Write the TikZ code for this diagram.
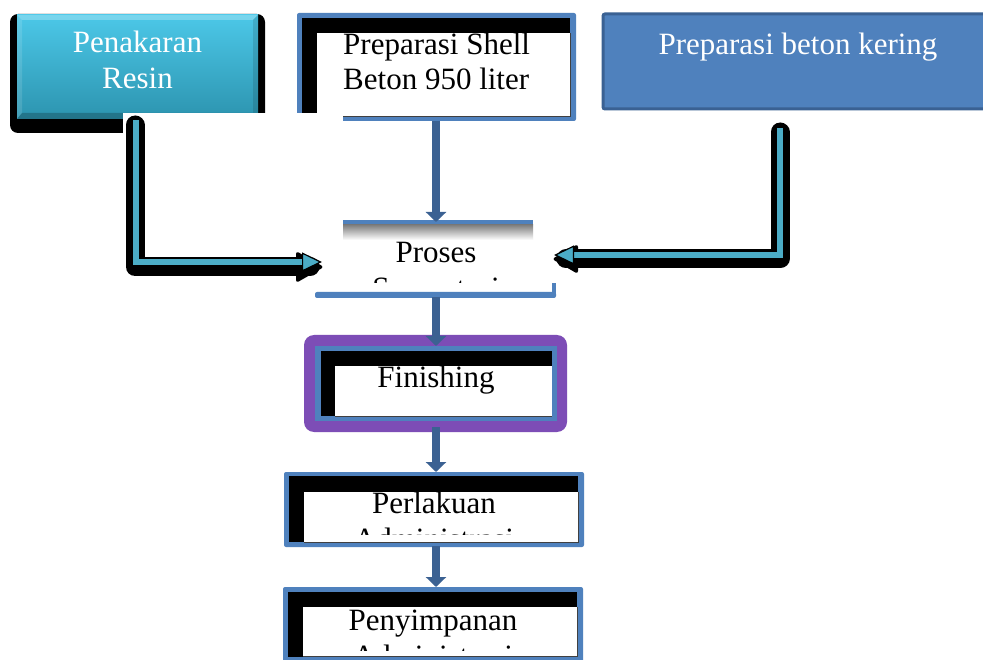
\documentclass[tikz,border=0pt]{standalone}
\usepackage{fontspec}
\setmainfont{Liberation Serif}
\usetikzlibrary{arrows.meta}

\definecolor{officeblue}{HTML}{4F81BD}
\definecolor{borderblue}{HTML}{3A6193}
\definecolor{shaftblue}{HTML}{3B6192}
\definecolor{tealtop}{HTML}{4CC8E8}
\definecolor{tealbot}{HTML}{2C94AF}
\definecolor{tealline}{HTML}{4BACC6}
\definecolor{frameviolet}{HTML}{7D4DB6}

\tikzset{
  lbl/.style={inner sep=0pt, anchor=base, font=\fontsize{31}{36}\selectfont},
  flowarrow/.style={draw=shaftblue, line width=8pt, -{Triangle[width=20pt,length=10pt]}},
  elbowshadow/.style={black, line width=19pt, line cap=round, line join=round},
  elbowline/.style={tealline, line width=6pt, line join=miter,
    -{Triangle[width=19pt,length=20pt,line width=1.2pt,color=black,fill=tealline]}},
}

\begin{document}
\begin{tikzpicture}[x=1pt,y=-1pt]
\clip (0,0) rectangle (983,660);
\fill[white] (0,0) rectangle (983,660);

% --- Penakaran Resin: bevelled teal block on a black shadow
\fill[black, rounded corners=8pt] (10,14) rectangle (265,133);
\shade[top color=tealtop, bottom color=tealbot] (17,15) rectangle (258,119);
\fill[white, opacity=0.25] (17,15) -- (258,15) -- (253,20) -- (22,20) -- cycle;
\fill[white, opacity=0.12] (17,15) -- (17,119) -- (22,113) -- (22,20) -- cycle;
\fill[black, opacity=0.22] (17,119) -- (258,119) -- (253,113) -- (22,113) -- cycle;
\fill[black, opacity=0.12] (258,15) -- (258,119) -- (253,113) -- (253,20) -- cycle;
\node[lbl, text=white] (resin1) at (137.5,53) {Penakaran};
\node[lbl, text=white] (resin2) at (137.5,89) {Resin};

% --- Preparasi Shell
\fill[officeblue, rounded corners=2pt] (297,13) rectangle (576,121);
\fill[black] (302,18) rectangle (570,116);
\fill[white] (317,33) rectangle (570,116);
\draw[black!75, line width=0.8pt] (317,116) -- (570,116) -- (570,33);
\node[lbl, anchor=base west] (shell1) at (343,55) {Preparasi Shell};
\node[lbl, anchor=base west] (shell2) at (343,90) {Beton 950 liter};

% white band cutting off the lower left corners
\fill[white] (123,113) rectangle (343,140);

% --- Preparasi beton kering
\filldraw[fill=officeblue, draw=borderblue, line width=3pt, rounded corners=2pt]
  (603,14) rectangle (1000,109);
\node[lbl, text=white] (beton) at (798,55) {Preparasi beton kering};

% --- Proses Sementasi
\fill[officeblue] (343,220) rectangle (533,225);
\shade[top color=black!50, bottom color=white] (343,225) rectangle (533,240);
\node[lbl] (pros1) at (436,263) {Proses};
\begin{scope}
  \clip (300,270) rectangle (560,283);
  \node[lbl] (pros2) at (436,299) {Sementasi};
\end{scope}
\fill[officeblue, rounded corners=2pt] (315,292) rectangle (556,298);
\fill[officeblue] (552,283) rectangle (556,296);

% --- Finishing
\fill[frameviolet, rounded corners=10pt] (304,335) rectangle (567,432);
\fill[officeblue] (315,346) rectangle (557,421);
\fill[black] (321,351) rectangle (552,416);
\fill[white] (335,366) rectangle (552,416);
\draw[black!75, line width=0.8pt] (335,416) -- (552,416);
\node[lbl] (fin) at (436,388) {Finishing};

% --- Perlakuan Administrasi
\fill[officeblue, rounded corners=2pt] (284,472) rectangle (584,547);
\fill[black] (289,476) rectangle (578,542);
\fill[white] (304,492) rectangle (578,542);
\draw[black!75, line width=0.8pt] (304,542) -- (578,542) -- (578,492);
\node[lbl] (perl1) at (434,513) {Perlakuan};
\begin{scope}
  \clip (304,520) rectangle (578,534);
  \node[lbl] (perl2) at (434,549) {Administrasi};
\end{scope}

% --- Penyimpanan Administrasi
\fill[officeblue, rounded corners=2pt] (283,587) rectangle (583,668);
\fill[black] (288,592) rectangle (577,657);
\fill[white] (303,607) rectangle (577,656);
\draw[black!75, line width=0.8pt] (303,656) -- (577,656) -- (577,607);
\node[lbl] (peny1) at (433,630) {Penyimpanan};
\begin{scope}
  \clip (303,636) rectangle (577,650);
  \node[lbl] (peny2) at (433,666) {Administrasi};
\end{scope}

% --- connector ends
\coordinate (shellOut) at (436,121);
\coordinate (prosIn)   at (436,222);
\coordinate (prosOut)  at (436,297);
\coordinate (finIn)    at (436,346);
\coordinate (finOut)   at (436,427);
\coordinate (perlIn)   at (436,472);
\coordinate (perlOut)  at (436,546);
\coordinate (penyIn)   at (436,587);

\coordinate (resinOut)  at (136,120);
\coordinate (resinBend) at (136,262);
\coordinate (prosWest)  at (322,262);

\coordinate (betonOut)  at (780,128);
\coordinate (betonBend) at (780,255);
\coordinate (prosEast)  at (554,255);

% --- main flow
\draw[flowarrow] (shellOut) -- (prosIn);
\draw[flowarrow] (prosOut) -- (finIn);
\draw[flowarrow] (finOut) -- (perlIn);
\draw[flowarrow] (perlOut) -- (penyIn);

% --- elbow connector from Penakaran Resin
\draw[elbowshadow] ([xshift=-1pt,yshift=-5pt]resinOut) -- ([xshift=-1pt,yshift=-5pt]resinBend)
  -- ([xshift=-12pt,yshift=-5pt]prosWest);
\fill[black, rounded corners=3pt] ([xshift=-26pt,yshift=11pt]prosWest) -- ([xshift=2pt,yshift=-5pt]prosWest)
  -- ([xshift=-26pt,yshift=-21pt]prosWest) -- cycle;
\draw[elbowline] (resinOut) -- (resinBend) -- (prosWest);

% --- elbow connector from Preparasi beton kering
\draw[elbowshadow] ([yshift=-4pt]betonOut) -- ([yshift=-4pt]betonBend)
  -- ([xshift=12pt,yshift=-4pt]prosEast);
\fill[black, rounded corners=3pt] ([xshift=24pt,yshift=11pt]prosEast) -- ([xshift=-2pt,yshift=-4pt]prosEast)
  -- ([xshift=24pt,yshift=-19pt]prosEast) -- cycle;
\draw[elbowline] (betonOut) -- (betonBend) -- (prosEast);
\end{tikzpicture}
\end{document}
